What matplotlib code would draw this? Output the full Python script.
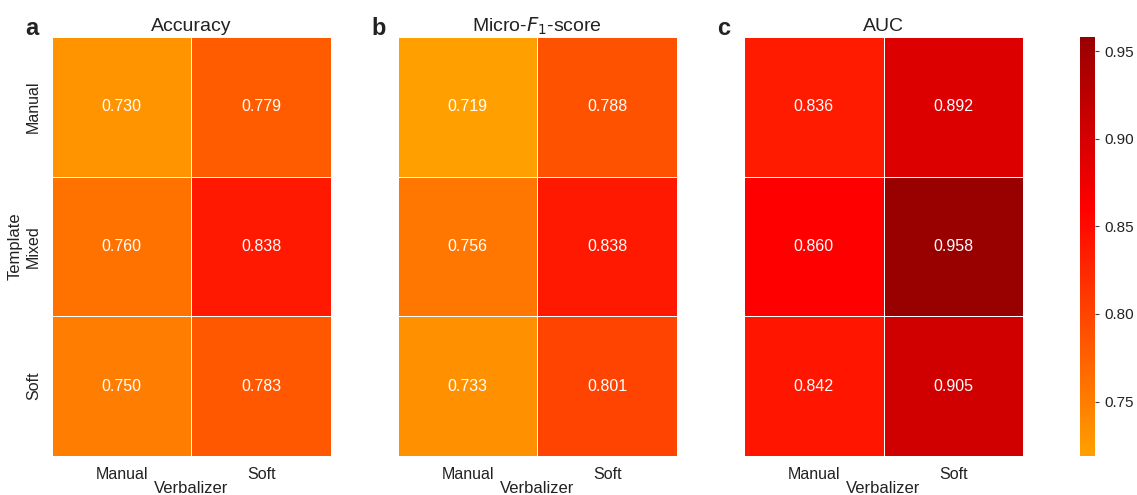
import numpy as np
import matplotlib
matplotlib.use('Agg')
import matplotlib.pyplot as plt
from matplotlib.colors import LinearSegmentedColormap, Normalize

plt.rcParams['font.family'] = ['Liberation Sans', 'DejaVu Sans']

templates = ['Manual', 'Mixed', 'Soft']
verbalizers = ['Manual', 'Soft']
titles = ['Accuracy', r'Micro-$F_1$-score', 'AUC']
letters = ['a', 'b', 'c']

accuracy = [[0.730, 0.779],
            [0.760, 0.838],
            [0.750, 0.783]]
micro_f1 = [[0.719, 0.788],
            [0.756, 0.838],
            [0.733, 0.801]]
auc = [[0.836, 0.892],
       [0.860, 0.958],
       [0.842, 0.905]]

tables = [np.array(accuracy), np.array(micro_f1), np.array(auc)]
vmin = min(t.min() for t in tables)
vmax = max(t.max() for t in tables)

# naranja -> rojo -> rojo oscuro, escala compartida por los tres paneles
cmap = LinearSegmentedColormap.from_list(
    'orange_red', [(0.0, '#ffa000'), (0.59, '#ff0000'), (1.0, '#990000')])
norm = Normalize(vmin=vmin, vmax=vmax)

fig = plt.figure(figsize=(11.37, 4.95), dpi=100)

lefts = [0.0457, 0.350, 0.6544]
bottom, width, height = 0.0788, 0.2454, 0.8465

for i, data in enumerate(tables):
    ax = fig.add_axes([lefts[i], bottom, width, height])
    mesh = ax.pcolormesh(data, cmap=cmap, norm=norm,
                         edgecolors='white', linewidth=0.6)
    ax.set_xlim(0, 2)
    ax.set_ylim(3, 0)
    for r in range(data.shape[0]):
        for c in range(data.shape[1]):
            ax.text(c + 0.5, r + 0.5, f'{data[r, c]:.3f}', ha='center', va='center',
                    color='white', fontsize=11.5)
    ax.set_xticks(np.arange(2) + 0.5)
    ax.set_xticklabels(verbalizers, fontsize=11.5, color='#222222')
    ax.set_xlabel('Verbalizer', fontsize=12, color='#222222', labelpad=-1)
    ax.tick_params(length=0, pad=8)
    if i == 0:
        ax.set_yticks(np.arange(3) + 0.5)
        ax.set_yticklabels(templates, rotation=90, va='center', fontsize=11.5,
                           color='#222222')
        ax.set_ylabel('Template', fontsize=12, color='#222222', labelpad=2)
    else:
        ax.set_yticks([])
    for s in ax.spines.values():
        s.set_visible(False)
    ax.set_title(titles[i], fontsize=14, color='#222222', pad=4)
    ax.text(-0.095, 1.004, letters[i], transform=ax.transAxes, fontsize=17,
            fontweight='bold', ha='left', va='baseline', color='#222222')

cax = fig.add_axes([0.950, bottom, 0.0132, height])
cb = fig.colorbar(mesh, cax=cax)
cb.outline.set_visible(False)
cb.set_ticks([0.75, 0.80, 0.85, 0.90, 0.95])
cb.ax.tick_params(labelsize=11, length=3, color='#444444', labelcolor='#222222')

fig.savefig('out.png', dpi=100)
